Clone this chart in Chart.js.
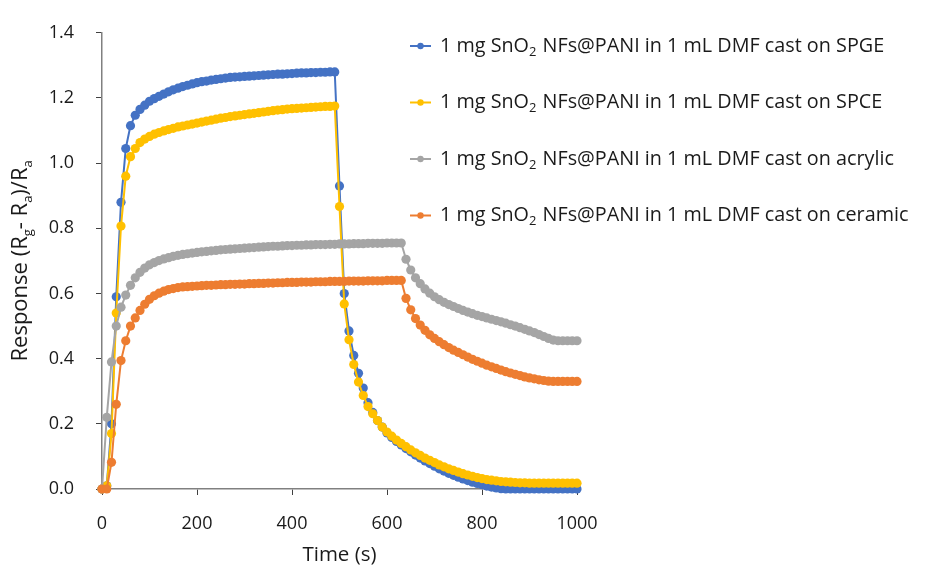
<!DOCTYPE html>
<html>
<head>
<meta charset="utf-8">
<script src="https://cdn.jsdelivr.net/npm/chart.js@4"></script>
<style>
  body { margin: 0; background: #fff; }
</style>
</head>
<body>
<canvas id="responseChart" width="938" height="568"></canvas>
<script>
// Sampling times (s)
const times = [
  0, 10, 20, 30, 40, 50, 60, 70, 80, 90,
  100, 110, 120, 130, 140, 150, 160, 170, 180, 190,
  200, 210, 220, 230, 240, 250, 260, 270, 280, 290,
  300, 310, 320, 330, 340, 350, 360, 370, 380, 390,
  400, 410, 420, 430, 440, 450, 460, 470, 480, 490,
  500, 510, 520, 530, 540, 550, 560, 570, 580, 590,
  600, 610, 620, 630, 640, 650, 660, 670, 680, 690,
  700, 710, 720, 730, 740, 750, 760, 770, 780, 790,
  800, 810, 820, 830, 840, 850, 860, 870, 880, 890,
  900, 910, 920, 930, 940, 950, 960, 970, 980, 990,
  1000
];

// Response (Rg - Ra)/Ra for each substrate
const spge = [
  0, 0.01, 0.2, 0.59, 0.88, 1.045, 1.115, 1.147, 1.165, 1.178,
  1.19, 1.198, 1.205, 1.212, 1.219, 1.225, 1.23, 1.235, 1.239, 1.243,
  1.247, 1.25, 1.252, 1.255, 1.257, 1.259, 1.261, 1.263, 1.264, 1.265,
  1.266, 1.267, 1.268, 1.269, 1.27, 1.271, 1.272, 1.273, 1.273, 1.274,
  1.275, 1.276, 1.277, 1.277, 1.278, 1.278, 1.279, 1.279, 1.28, 1.28,
  0.93, 0.6, 0.485, 0.41, 0.355, 0.31, 0.265, 0.235, 0.21, 0.19,
  0.172, 0.158, 0.146, 0.135, 0.124, 0.114, 0.104, 0.095, 0.086, 0.078,
  0.07, 0.062, 0.055, 0.048, 0.042, 0.036, 0.031, 0.026, 0.021, 0.017,
  0.013, 0.009, 0.006, 0.003, 0.001, 0, 0, 0, 0, 0,
  0, 0, 0, 0, 0, 0, 0, 0, 0, 0,
  0
];
const spce = [
  0, 0.01, 0.17, 0.54, 0.807, 0.96, 1.02, 1.045, 1.063, 1.074,
  1.082, 1.089, 1.094, 1.099, 1.103, 1.107, 1.111, 1.114, 1.117, 1.12,
  1.123, 1.126, 1.129, 1.132, 1.135, 1.138, 1.14, 1.143, 1.145, 1.147,
  1.149, 1.151, 1.153, 1.155, 1.157, 1.159, 1.161, 1.163, 1.164, 1.166,
  1.167, 1.168, 1.169, 1.17, 1.171, 1.172, 1.173, 1.174, 1.174, 1.175,
  0.867, 0.568, 0.458, 0.382, 0.328, 0.287, 0.253, 0.231, 0.21, 0.19,
  0.175, 0.162, 0.15, 0.14, 0.13, 0.12, 0.111, 0.103, 0.095, 0.088,
  0.081, 0.074, 0.068, 0.062, 0.057, 0.052, 0.047, 0.043, 0.039, 0.035,
  0.032, 0.029, 0.027, 0.025, 0.023, 0.022, 0.021, 0.02, 0.019, 0.019,
  0.018, 0.018, 0.018, 0.018, 0.018, 0.018, 0.018, 0.018, 0.018, 0.018,
  0.018
];
const acrylic = [
  0, 0.22, 0.39, 0.5, 0.558, 0.595, 0.625, 0.648, 0.665, 0.678,
  0.688, 0.695, 0.701, 0.706, 0.71, 0.714, 0.717, 0.72, 0.722, 0.724,
  0.726, 0.728, 0.729, 0.731, 0.732, 0.734, 0.735, 0.736, 0.737, 0.738,
  0.739, 0.74, 0.741, 0.742, 0.743, 0.744, 0.745, 0.745, 0.746, 0.747,
  0.747, 0.748, 0.748, 0.749, 0.749, 0.75, 0.75, 0.75, 0.751, 0.751,
  0.752, 0.752, 0.752, 0.753, 0.753, 0.753, 0.754, 0.754, 0.754, 0.754,
  0.755, 0.755, 0.755, 0.755, 0.705, 0.672, 0.648, 0.63, 0.614, 0.601,
  0.59, 0.581, 0.573, 0.566, 0.56, 0.554, 0.548, 0.543, 0.538, 0.533,
  0.529, 0.525, 0.521, 0.517, 0.513, 0.509, 0.504, 0.5, 0.495, 0.49,
  0.485, 0.48, 0.474, 0.468, 0.462, 0.457, 0.455, 0.455, 0.455, 0.455,
  0.455
];
const ceramic = [
  0, 0, 0.082, 0.26, 0.394, 0.455, 0.5, 0.525, 0.548, 0.567,
  0.582, 0.593, 0.601, 0.607, 0.612, 0.615, 0.618, 0.62, 0.621, 0.622,
  0.623, 0.624, 0.625, 0.625, 0.626, 0.627, 0.627, 0.628, 0.628, 0.629,
  0.629, 0.63, 0.63, 0.631, 0.631, 0.632, 0.632, 0.633, 0.633, 0.634,
  0.634, 0.634, 0.635, 0.635, 0.635, 0.636, 0.636, 0.636, 0.637, 0.637,
  0.637, 0.637, 0.638, 0.638, 0.638, 0.638, 0.639, 0.639, 0.639, 0.639,
  0.64, 0.64, 0.64, 0.64, 0.585, 0.55, 0.523, 0.503, 0.487, 0.473,
  0.462, 0.452, 0.443, 0.434, 0.426, 0.419, 0.412, 0.405, 0.398, 0.392,
  0.386, 0.38, 0.375, 0.37, 0.365, 0.36, 0.356, 0.352, 0.348, 0.344,
  0.341, 0.338, 0.335, 0.333, 0.331, 0.33, 0.33, 0.33, 0.33, 0.33,
  0.33
];

const seriesNames = ['SPGE', 'SPCE', 'acrylic', 'ceramic'];
const seriesValues = [spge, spce, acrylic, ceramic];
const seriesColors = ['#4472C4', '#FFC000', '#A5A5A5', '#ED7D31'];

const FONT = "'Open Sans', 'Noto Sans', sans-serif";
const TEXT = '#1a1a1a';

const toPoints = vals => times.map((t, i) => ({ x: t, y: vals[i] }));

// legend drawn over the plot, with the subscript in SnO2
const sideLegend = {
  id: 'sideLegend',
  afterDraw(chart) {
    const ctx = chart.ctx;
    ctx.save();
    seriesNames.forEach((name, i) => {
      const y = 46 + i * 56.5;
      const c = seriesColors[i];
      ctx.strokeStyle = c;
      ctx.lineWidth = 2;
      ctx.beginPath();
      ctx.moveTo(410, y);
      ctx.lineTo(431, y);
      ctx.stroke();
      ctx.fillStyle = c;
      ctx.beginPath();
      ctx.arc(420.5, y, 3.2, 0, Math.PI * 2);
      ctx.fill();

      ctx.fillStyle = TEXT;
      ctx.textBaseline = 'middle';
      ctx.textAlign = 'left';
      let x = 440;
      ctx.font = '19.8px ' + FONT;
      ctx.fillText('1 mg SnO', x, y);
      x += ctx.measureText('1 mg SnO').width;
      ctx.font = '13px ' + FONT;
      ctx.fillText('2', x, y + 6);
      x += ctx.measureText('2').width + 1;
      ctx.font = '19.8px ' + FONT;
      ctx.fillText(' NFs@PANI in 1 mL DMF cast on ' + name, x, y);
    });
    ctx.restore();
  }
};

// y axis title with subscripts
const yTitle = {
  id: 'yTitle',
  afterDraw(chart) {
    const ctx = chart.ctx;
    const parts = [
      ['Response (R', false], ['g', true], ['- R', false], ['a', true],
      [')/R', false], ['a', true]
    ];
    const big = '22px ' + FONT;
    const small = '13px ' + FONT;
    ctx.save();
    ctx.fillStyle = TEXT;
    ctx.textBaseline = 'middle';
    ctx.textAlign = 'left';
    let total = 0;
    parts.forEach(([s, sub]) => {
      ctx.font = sub ? small : big;
      total += ctx.measureText(s).width;
    });
    const area = chart.chartArea;
    ctx.translate(21, (area.top + area.bottom) / 2);
    ctx.rotate(-Math.PI / 2);
    let x = -total / 2;
    parts.forEach(([s, sub]) => {
      ctx.font = sub ? small : big;
      ctx.fillText(s, x, sub ? 7 : 0);
      x += ctx.measureText(s).width;
    });
    ctx.restore();
  }
};

const ctx = document.getElementById('responseChart').getContext('2d');
new Chart(ctx, {
  type: 'line',
  data: {
    datasets: seriesNames.map((name, i) => ({
      label: '1 mg SnO₂ NFs@PANI in 1 mL DMF cast on ' + name,
      data: toPoints(seriesValues[i]),
      borderColor: seriesColors[i],
      backgroundColor: seriesColors[i],
      pointBackgroundColor: seriesColors[i],
      pointBorderWidth: 0,
      pointRadius: 4.6,
      borderWidth: 2,
      tension: 0,
      clip: false,
      order: 3 - i
    }))
  },
  options: {
    responsive: false,
    animation: false,
    layout: { padding: { left: 0, right: 361, top: 25, bottom: 0 } },
    plugins: {
      legend: { display: false },
      tooltip: { enabled: false }
    },
    scales: {
      x: {
        type: 'linear',
        min: 0,
        max: 1000,
        afterFit: s => { s.height = 79; },
        ticks: {
          stepSize: 200,
          padding: 18,
          color: TEXT,
          font: { family: FONT, size: 18 },
          callback: v => String(v)
        },
        grid: { drawOnChartArea: false, tickLength: 6, color: '#404040', lineWidth: 1 },
        border: { color: '#808080', width: 1.5 },
        title: {
          display: true,
          text: 'Time (s)',
          color: TEXT,
          font: { family: FONT, size: 20.5 },
          padding: { top: 0, bottom: 1 }
        }
      },
      y: {
        min: 0,
        max: 1.4,
        afterFit: s => { s.width = 102; },
        ticks: {
          stepSize: 0.2,
          padding: 22,
          color: TEXT,
          font: { family: FONT, size: 18 },
          callback: v => v.toFixed(1)
        },
        grid: { drawOnChartArea: false, tickLength: 6, color: '#404040', lineWidth: 1 },
        border: { color: '#808080', width: 1.5 }
      }
    }
  },
  plugins: [sideLegend, yTitle]
});
</script>
</body>
</html>
